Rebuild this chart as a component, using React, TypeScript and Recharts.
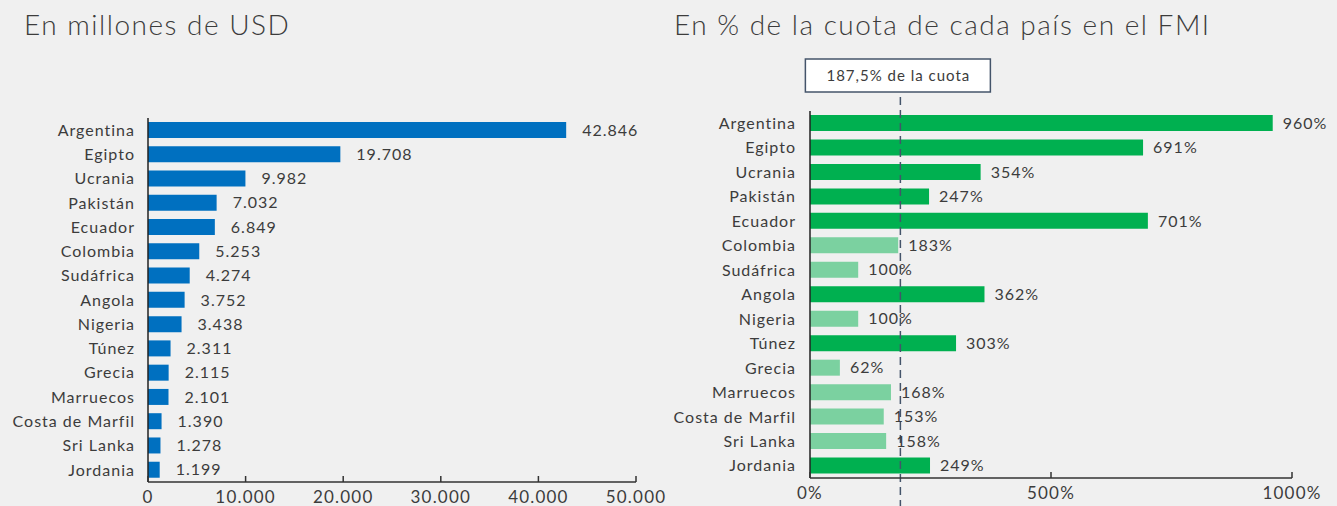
import { BarChart, Bar, XAxis, YAxis, LabelList, ReferenceLine, Cell } from "recharts"

const paises = [
  "Argentina",
  "Egipto",
  "Ucrania",
  "Pakistán",
  "Ecuador",
  "Colombia",
  "Sudáfrica",
  "Angola",
  "Nigeria",
  "Túnez",
  "Grecia",
  "Marruecos",
  "Costa de Marfil",
  "Sri Lanka",
  "Jordania",
]
const millonesUsd = [42846, 19708, 9982, 7032, 6849, 5253, 4274, 3752, 3438, 2311, 2115, 2101, 1390, 1278, 1199]
const pctCuota = [960, 691, 354, 247, 701, 183, 100, 362, 100, 303, 62, 168, 153, 158, 249]
const ticksUsd = [0, 10000, 20000, 30000, 40000, 50000]
const ticksPct = [0, 500, 1000]
const umbral = 187.5

const usdData = paises.map((pais, i) => ({ pais, valor: millonesUsd[i] }))
const pctData = paises.map((pais, i) => ({ pais, valor: pctCuota[i] }))

const FONT = "Lato, 'Open Sans', sans-serif"
const TEXT = "#3c3c3c"

const fmtMiles = (n: number) => n.toString().replace(/\B(?=(\d{3})+(?!\d))/g, ".")
const fmtPct = (n: number) => `${n}%`

function makeTick(fmt: (n: number) => string) {
  // eslint-disable-next-line @typescript-eslint/no-explicit-any
  return (props: any) => {
    const { x, y, payload } = props
    return (
      <g>
        <line x1={x} x2={x} y1={y} y2={y - 6} stroke="#333" strokeWidth={1.5} />
        <text
          x={x}
          y={y + 21}
          textAnchor="middle"
          fontSize={17}
          fill={TEXT}
          fontFamily={FONT}
          style={{ letterSpacing: 1.2 }}
        >
          {fmt(payload.value)}
        </text>
      </g>
    )
  }
}

// eslint-disable-next-line @typescript-eslint/no-explicit-any
function CuotaLine(props: any) {
  const { x1, y1, y2 } = props
  const top = Math.min(y1, y2)
  const bottom = Math.max(y1, y2)
  return (
    <g>
      <line
        x1={x1}
        x2={x1}
        y1={top - 14}
        y2={bottom + 40}
        stroke="#44546A"
        strokeWidth={1.5}
        strokeDasharray="8 5"
      />
      <rect x={x1 - 95} y={top - 52} width={185} height={33} fill="#fff" stroke="#44546A" strokeWidth={1.5} />
      <text
        x={x1 - 2}
        y={top - 30}
        textAnchor="middle"
        fontSize={15}
        fill={TEXT}
        fontFamily={FONT}
        style={{ letterSpacing: 1 }}
      >
        187,5% de la cuota
      </text>
    </g>
  )
}

const yTick = { fontSize: 16, fill: TEXT, fontFamily: FONT, letterSpacing: 1 }
const valueStyle = { fontSize: 16, fill: TEXT, fontFamily: FONT, letterSpacing: 1 }
const titleStyle = {
  position: "absolute" as const,
  top: 7,
  fontSize: 28,
  color: TEXT,
  fontWeight: 300,
  letterSpacing: 1.5,
  whiteSpace: "nowrap" as const,
}

export default function App() {
  return (
    <div
      style={{
        position: "absolute",
        left: 0,
        top: 0,
        width: 1337,
        height: 506,
        background: "#f0f0f0",
        overflow: "hidden",
        fontFamily: FONT,
      }}
    >
      <div style={{ ...titleStyle, left: 24 }}>En millones de USD</div>
      <div style={{ ...titleStyle, left: 674 }}>En % de la cuota de cada país en el FMI</div>

      <div style={{ position: "absolute", left: 0, top: 0 }}>
        <BarChart
          width={670}
          height={506}
          data={usdData}
          layout="vertical"
          margin={{ top: 118, right: 34, bottom: 0, left: 0 }}
        >
          <XAxis
            type="number"
            domain={[0, 50000]}
            ticks={ticksUsd}
            height={24}
            axisLine={{ stroke: "#333", strokeWidth: 1.5 }}
            tickLine={false}
            tickSize={0}
            tickMargin={0}
            tick={makeTick(fmtMiles)}
            interval={0}
          />
          <YAxis
            type="category"
            dataKey="pais"
            width={148}
            axisLine={{ stroke: "#222", strokeWidth: 1.5 }}
            tickLine={false}
            tickSize={0}
            tickMargin={13}
            tick={yTick}
            interval={0}
          />
          <Bar dataKey="valor" fill="#0070C0" barSize={16} isAnimationActive={false}>
            <LabelList
              dataKey="valor"
              position="right"
              offset={16}
              formatter={(v: number) => fmtMiles(v)}
              style={valueStyle}
            />
          </Bar>
        </BarChart>
      </div>

      <div style={{ position: "absolute", left: 650, top: 0 }}>
        <BarChart
          width={687}
          height={506}
          data={pctData}
          layout="vertical"
          margin={{ top: 111, right: 45, bottom: 0, left: 0 }}
        >
          <XAxis
            type="number"
            domain={[0, 1000]}
            ticks={ticksPct}
            height={28}
            axisLine={{ stroke: "#333", strokeWidth: 1.5 }}
            tickLine={false}
            tickSize={0}
            tickMargin={0}
            tick={makeTick(fmtPct)}
            interval={0}
          />
          <YAxis
            type="category"
            dataKey="pais"
            width={160}
            axisLine={{ stroke: "#222", strokeWidth: 1.5 }}
            tickLine={false}
            tickSize={0}
            tickMargin={14}
            tick={yTick}
            interval={0}
          />
          <Bar dataKey="valor" barSize={16} isAnimationActive={false}>
            {pctData.map((d) => (
              <Cell key={d.pais} fill={d.valor > umbral ? "#00B050" : "#7BD1A0"} />
            ))}
            <LabelList
              dataKey="valor"
              position="right"
              offset={10}
              formatter={(v: number) => fmtPct(v)}
              style={valueStyle}
            />
          </Bar>
          <ReferenceLine x={umbral} shape={CuotaLine} />
        </BarChart>
      </div>
    </div>
  )
}
